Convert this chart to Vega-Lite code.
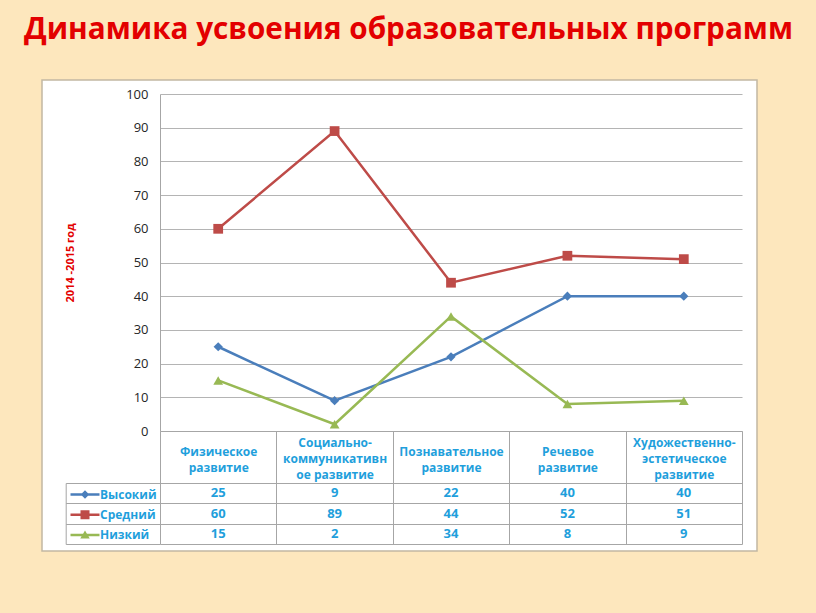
{
  "$schema": "https://vega.github.io/schema/vega-lite/v6.json",
  "width": 715,
  "height": 471,
  "autosize": {"type": "none"},
  "padding": {"left": 42, "top": 80, "right": 59, "bottom": 62},
  "background": "#fde7bd",
  "title": {
    "text": "Динамика усвоения образовательных программ",
    "font": "Open Sans",
    "fontSize": 29.7,
    "fontWeight": "bold",
    "color": "#e30000",
    "anchor": "middle",
    "dx": 9,
    "offset": 11,
    "baseline": "alphabetic"
  },
  "data": {
    "values": [
      {"cat": "Физическое развитие", "series": "Высокий", "value": 25},
      {"cat": "Физическое развитие", "series": "Средний", "value": 60},
      {"cat": "Физическое развитие", "series": "Низкий", "value": 15},
      {"cat": "Социально-коммуникативное развитие", "series": "Высокий", "value": 9},
      {"cat": "Социально-коммуникативное развитие", "series": "Средний", "value": 89},
      {"cat": "Социально-коммуникативное развитие", "series": "Низкий", "value": 2},
      {"cat": "Познавательное развитие", "series": "Высокий", "value": 22},
      {"cat": "Познавательное развитие", "series": "Средний", "value": 44},
      {"cat": "Познавательное развитие", "series": "Низкий", "value": 34},
      {"cat": "Речевое развитие", "series": "Высокий", "value": 40},
      {"cat": "Речевое развитие", "series": "Средний", "value": 52},
      {"cat": "Речевое развитие", "series": "Низкий", "value": 8},
      {"cat": "Художественно-эстетическое развитие", "series": "Высокий", "value": 40},
      {"cat": "Художественно-эстетическое развитие", "series": "Средний", "value": 51},
      {"cat": "Художественно-эстетическое развитие", "series": "Низкий", "value": 9}
    ]
  },
  "layer": [
    {
      "layer": [
        {
          "mark": {"type": "line", "strokeWidth": 2.5},
          "encoding": {
            "x": {
              "field": "cat",
              "type": "nominal",
              "sort": null,
              "bandPosition": 0.5,
              "scale": {"type": "band", "range": [118, 700], "paddingInner": 0, "paddingOuter": 0},
              "axis": {
                "orient": "bottom",
                "offset": -120,
                "title": null,
                "domain": true,
                "domainColor": "#a6a6a6",
                "domainWidth": 1,
                "ticks": true,
                "tickBand": "extent",
                "tickSize": 113,
                "tickColor": "#a6a6a6",
                "tickWidth": 1,
                "grid": false,
                "labelAngle": 0,
                "labelBaseline": "middle",
                "labelPadding": {"condition": {"test": "datum.label == 'Социально-коммуникативное развитие' || datum.label == 'Художественно-эстетическое развитие'", "value": -102}, "value": -93},
                "labelLineHeight": 16,
                "labelFont": "Open Sans",
                "labelFontSize": 12,
                "labelFontWeight": "bold",
                "labelColor": "#1f9fdc",
                "labelLimit": 0,
                "labelOverlap": false,
                "labelFlush": false,
                "labelExpr": "datum.label == 'Физическое развитие' ? ['Физическое','развитие'] : datum.label == 'Социально-коммуникативное развитие' ? ['Социально-','коммуникативн','ое развитие'] : datum.label == 'Познавательное развитие' ? ['Познавательное','развитие'] : datum.label == 'Речевое развитие' ? ['Речевое','развитие'] : datum.label == 'Художественно-эстетическое развитие' ? ['Художественно-','эстетическое','развитие'] : ''"
              }
            },
            "y": {
              "field": "value",
              "type": "quantitative",
              "scale": {"domain": [0, 100], "range": [351, 14], "nice": false, "zero": true},
              "axis": {
                "orient": "left",
                "offset": -118,
                "values": [0, 10, 20, 30, 40, 50, 60, 70, 80, 90, 100],
                "title": "2014 -2015 год",
                "titleColor": "#e30000",
                "titleFont": "Open Sans",
                "titleFontSize": 11,
                "titleFontWeight": "bold",
                "titlePadding": 50,
                "domain": true,
                "domainColor": "#a6a6a6",
                "ticks": false,
                "grid": true,
                "gridColor": "#b4b4b4",
                "gridWidth": 1.2,
                "labelPadding": 12,
                "labelFont": "Open Sans",
                "labelFontSize": 13,
                "labelColor": "#262626"
              }
            },
            "color": {
              "field": "series",
              "type": "nominal",
              "scale": {"domain": ["Высокий", "Средний", "Низкий"], "range": ["#4a7ebb", "#be4b48", "#98b954"]}
            }
          }
        },
        {
          "mark": {"type": "point", "filled": true, "opacity": 0, "size": 10},
          "encoding": {
            "x": {"field": "cat", "type": "nominal", "sort": null, "bandPosition": 0.5},
            "y": {"field": "value", "type": "quantitative"},
            "shape": {
              "field": "series",
              "type": "nominal",
              "scale": {
                "domain": ["Высокий", "Средний", "Низкий"],
                "range": [
                  "M-2.9,-0.25H2.9V0.25H-2.9Z M0,-0.85L0.85,0L0,0.85L-0.85,0Z",
                  "M-2.9,-0.25H2.9V0.25H-2.9Z M-0.9,-0.9H0.9V0.9H-0.9Z",
                  "M-2.9,-0.25H2.9V0.25H-2.9Z M0,-0.9L0.95,0.7H-0.95Z"
                ]
              },
              "legend": {
                "orient": "none",
                "legendX": 37,
                "legendY": 408.5,
                "title": null,
                "padding": 0,
                "symbolSize": 100,
                "symbolOpacity": 1,
                "symbolStrokeWidth": 0,
                "labelFont": "Open Sans",
                "labelFontSize": 12,
                "labelFontWeight": "bold",
                "labelColor": "#1f9fdc",
                "labelOffset": 9,
                "rowPadding": 8.3
              }
            },
            "color": {
              "field": "series",
              "type": "nominal",
              "legend": {
                "orient": "none",
                "legendX": 37,
                "legendY": 408.5,
                "title": null,
                "padding": 0,
                "symbolSize": 100,
                "symbolOpacity": 1,
                "symbolStrokeWidth": 0,
                "labelFont": "Open Sans",
                "labelFontSize": 12,
                "labelFontWeight": "bold",
                "labelColor": "#1f9fdc",
                "labelOffset": 9,
                "rowPadding": 8.3
              }
            }
          }
        },
        {
          "transform": [{"filter": {"field": "series", "equal": "Высокий"}}],
          "mark": {"type": "point", "shape": "diamond", "filled": true, "opacity": 1, "size": 85},
          "encoding": {
            "x": {"field": "cat", "type": "nominal", "sort": null, "bandPosition": 0.5},
            "y": {"field": "value", "type": "quantitative"},
            "color": {"field": "series", "type": "nominal"}
          }
        },
        {
          "transform": [{"filter": {"field": "series", "equal": "Средний"}}],
          "mark": {"type": "point", "shape": "square", "filled": true, "opacity": 1, "size": 95},
          "encoding": {
            "x": {"field": "cat", "type": "nominal", "sort": null, "bandPosition": 0.5},
            "y": {"field": "value", "type": "quantitative"},
            "color": {"field": "series", "type": "nominal"}
          }
        },
        {
          "transform": [{"filter": {"field": "series", "equal": "Низкий"}}],
          "mark": {"type": "point", "shape": "triangle-up", "filled": true, "opacity": 1, "size": 95},
          "encoding": {
            "x": {"field": "cat", "type": "nominal", "sort": null, "bandPosition": 0.5},
            "y": {"field": "value", "type": "quantitative"},
            "color": {"field": "series", "type": "nominal"}
          }
        }
      ]
    },
    {
      "mark": {"type": "text", "font": "Open Sans", "fontSize": 13, "fontWeight": "bold", "color": "#1f9fdc", "baseline": "middle", "align": "center"},
      "encoding": {
        "x": {"field": "cat", "type": "nominal", "sort": null, "bandPosition": 0.5},
        "y": {
          "field": "series",
          "type": "nominal",
          "bandPosition": 0.5,
          "scale": {"type": "band", "domain": ["Высокий", "Средний", "Низкий"], "range": [403, 464], "paddingInner": 0, "paddingOuter": 0},
          "axis": {
            "orient": "left",
            "offset": -23.7,
            "title": null,
            "domain": true,
            "domainColor": "#a6a6a6",
            "labels": false,
            "ticks": true,
            "tickBand": "extent",
            "tickSize": -94.3,
            "tickColor": "#a6a6a6",
            "grid": true,
            "gridColor": "#a6a6a6",
            "gridWidth": 1
          }
        },
        "text": {"field": "value", "type": "quantitative"}
      }
    }
  ],
  "resolve": {"scale": {"y": "independent"}, "axis": {"y": "independent"}},
  "config": {
    "font": "Open Sans",
    "view": {"fill": "white", "stroke": "#c2b8a3", "strokeWidth": 1.5}
  }
}
